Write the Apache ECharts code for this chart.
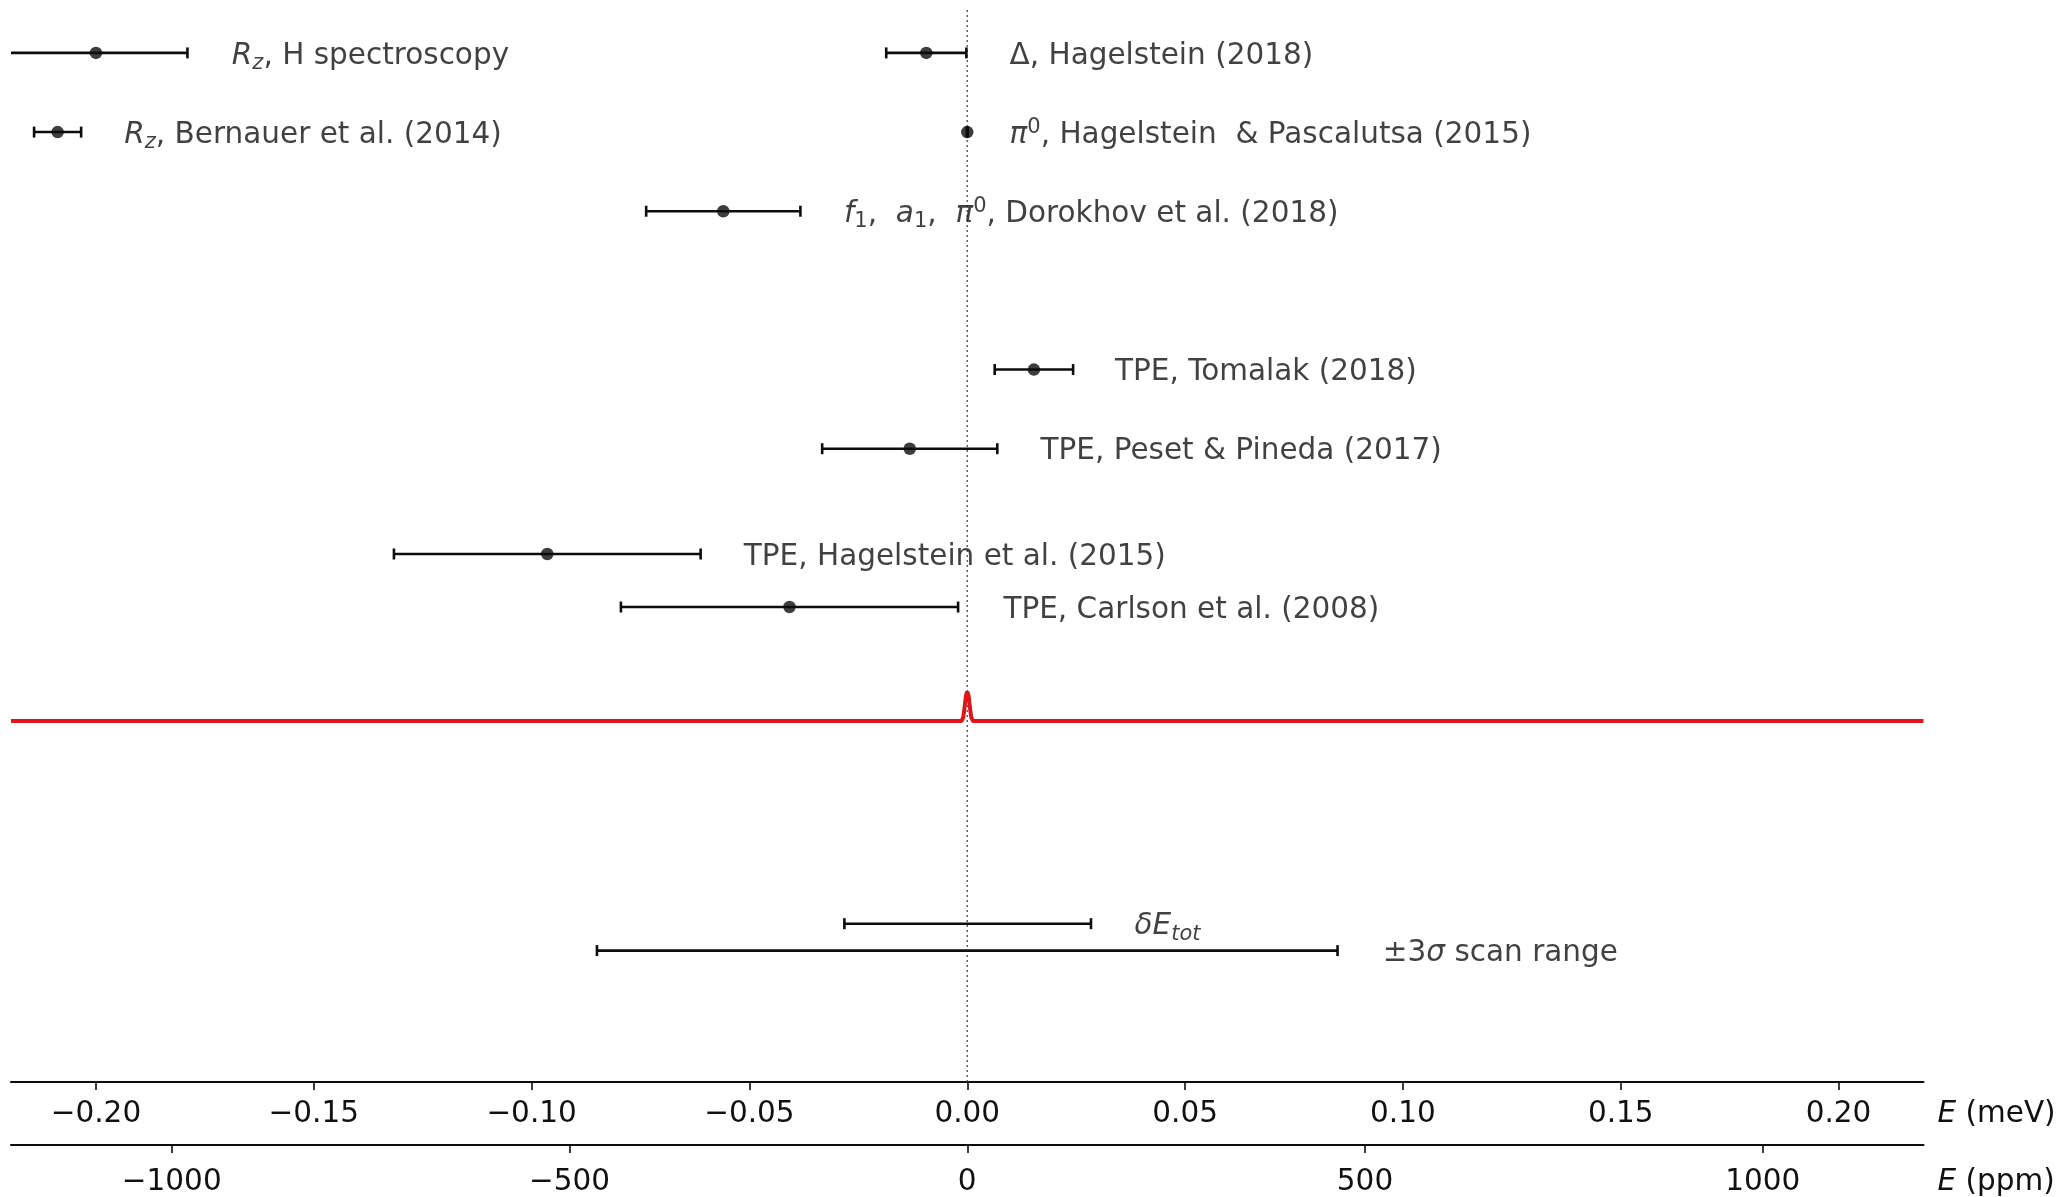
<!DOCTYPE html>
<html>
<head>
<meta charset="utf-8">
<script src="https://cdn.jsdelivr.net/npm/echarts@6/dist/echarts.min.js"></script>
<style>
  html, body { margin: 0; padding: 0; background: #ffffff; }
  #chart { width: 2064px; height: 1197px; }
</style>
</head>
<body>
<div id="chart"></div>
<script>
// Contributions to the hyperfine splitting (meV) with 1σ uncertainties
const labels = [
  '{i|R}{sub|z}, H spectroscopy',
  '{i|R}{sub|z}, Bernauer et al. (2014)',
  '{i|f}{subn|1},  {i|a}{subn|1},  {i|π}{sup|0}, Dorokhov et al. (2018)',
  'Δ, Hagelstein (2018)',
  '{i|π}{sup|0}, Hagelstein  & Pascalutsa (2015)',
  'TPE, Tomalak (2018)',
  'TPE, Peset & Pineda (2017)',
  'TPE, Hagelstein et al. (2015)',
  'TPE, Carlson et al. (2008)',
  '{i|δE}{sub|tot}',
  '±3{i|σ} scan range'
];
const centers = [-0.2000, -0.2088, -0.0560, -0.0094, 0.0000, 0.0153, -0.0132, -0.0964, -0.0408, 0.0001, 0.0000];
const errors  = [ 0.0210,  0.0054,  0.0177,  0.0092, 0.0001, 0.0090,  0.0201,  0.0352,  0.0387, 0.0283, 0.0850];
const rows    = [13, 12, 11, 13, 12, 9, 8, 6.67, 6, 2, 1.66];
const hasDot  = [true, true, true, true, true, true, true, true, true, false, false];
const labelX  = [-0.1688, -0.1935, -0.0283, 0.0097, 0.0097, 0.0339, 0.0168, -0.0513, 0.0083, 0.0384, 0.0954];

// Scan response: flat baseline with a narrow resonance at zero
const peakX = [-0.2195, -0.0013, -0.0009, -0.0006, -0.0003, 0.0000, 0.0003, 0.0006, 0.0009, 0.0013, 0.2195];
const peakY = [4.56, 4.56, 4.61, 4.74, 4.88, 4.93, 4.88, 4.74, 4.61, 4.56, 4.56];

// Axis ticks
const mevTicks = [-0.20, -0.15, -0.10, -0.05, 0.00, 0.05, 0.10, 0.15, 0.20];
const ppmTicks = [-1000, -500, 0, 500, 1000];

const E_HFS = 182.6;      // meV, reference energy for the ppm scale
const X_LIMIT = 0.2195;   // meV
const Y_TOP = 13.58;

const FONT = 'DejaVu Sans';
const FS = 29.5;
const SUBFS = 21;
const TXT = '#111111';
const INK = '#0d0d0d';

const minus = s => s.replace('-', '\u2212');

const richStyles = {
  i:    { fontFamily: FONT, fontSize: FS, fontStyle: 'italic', color: TXT, lineHeight: 36 },
  sub:  { fontFamily: FONT, fontSize: SUBFS, fontStyle: 'italic', color: TXT, lineHeight: 15, verticalAlign: 'bottom' },
  subn: { fontFamily: FONT, fontSize: SUBFS, color: TXT, lineHeight: 15, verticalAlign: 'bottom' },
  sup:  { fontFamily: FONT, fontSize: SUBFS, color: TXT, lineHeight: 15, verticalAlign: 'top' }
};

const barData = centers.map((c, k) => [c, rows[k], errors[k]]);
const dotData = centers.map((c, k) => [c, rows[k]]).filter((_, k) => hasDot[k]);
const labelData = labelX.map((x, k) => ({ value: [x, rows[k]], name: labels[k] }));
const peakData = peakX.map((x, k) => [x, peakY[k]]);

const CAP = 5.5;

function renderBar(params, api) {
  const c = api.value(0), y = api.value(1), e = api.value(2);
  const cs = params.coordSys;
  const lo = api.coord([c - e, y]);
  const hi = api.coord([c + e, y]);
  const xL = Math.max(lo[0], cs.x);
  const xR = Math.min(hi[0], cs.x + cs.width);
  const st = { stroke: INK, lineWidth: 2.6 };
  const children = [{ type: 'line', shape: { x1: xL, y1: lo[1], x2: xR, y2: lo[1] }, style: st }];
  if (lo[0] >= cs.x - 0.5) {
    children.push({ type: 'line', shape: { x1: lo[0], y1: lo[1] - CAP, x2: lo[0], y2: lo[1] + CAP }, style: st });
  }
  if (hi[0] <= cs.x + cs.width + 0.5) {
    children.push({ type: 'line', shape: { x1: hi[0], y1: hi[1] - CAP, x2: hi[0], y2: hi[1] + CAP }, style: st });
  }
  return { type: 'group', children };
}

function axisNameStyle(padTop) {
  return {
    fontFamily: FONT, fontSize: FS, color: TXT,
    align: 'left', verticalAlign: 'top', padding: [padTop, 0, 0, 0], lineHeight: 30,
    rich: { i: { fontFamily: FONT, fontSize: FS, fontStyle: 'italic', color: TXT, lineHeight: 30 } }
  };
}

const chart = echarts.init(document.getElementById('chart'), null, { renderer: 'canvas' });

chart.setOption({
  animation: false,
  backgroundColor: '#ffffff',
  grid: { left: 11, right: 140.5, top: 7, bottom: 115, containLabel: false, outerBoundsMode: 'none' },
  xAxis: [
    {
      type: 'value', min: -X_LIMIT, max: X_LIMIT, position: 'bottom',
      axisLine: { onZero: false, lineStyle: { color: INK, width: 2.2 } },
      axisTick: { show: true, length: 8, lineStyle: { color: INK, width: 1.6 }, customValues: mevTicks },
      axisLabel: {
        customValues: mevTicks, margin: 17, fontFamily: FONT, fontSize: FS, color: TXT, lineHeight: 30,
        formatter: v => minus(Number(v).toFixed(2))
      },
      splitLine: { show: false },
      name: '{i|E} (meV)', nameLocation: 'end', nameGap: 14, nameTextStyle: axisNameStyle(17)
    },
    {
      type: 'value', min: -X_LIMIT / E_HFS * 1e6, max: X_LIMIT / E_HFS * 1e6, position: 'bottom', offset: 63,
      axisLine: { onZero: false, lineStyle: { color: INK, width: 2.2 } },
      axisTick: { show: true, length: 8, lineStyle: { color: INK, width: 1.6 }, customValues: ppmTicks },
      axisLabel: {
        customValues: ppmTicks, margin: 22, fontFamily: FONT, fontSize: FS, color: TXT, lineHeight: 30,
        formatter: v => minus(String(Math.round(v)))
      },
      splitLine: { show: false },
      name: '{i|E} (ppm)', nameLocation: 'end', nameGap: 14, nameTextStyle: axisNameStyle(22)
    }
  ],
  yAxis: { type: 'value', min: 0, max: Y_TOP, show: false },
  series: [
    {
      // zero reference
      type: 'line', xAxisIndex: 0, silent: true, showSymbol: false, z: 1,
      data: [[0, 0], [0, Y_TOP]],
      lineStyle: { color: '#4a4a4a', width: 1.3, type: [2, 3] }
    },
    {
      type: 'line', xAxisIndex: 0, silent: true, showSymbol: false, z: 2,
      data: peakData,
      lineStyle: { color: '#e0141b', width: 4 }
    },
    {
      type: 'custom', xAxisIndex: 0, silent: true, z: 3,
      encode: { x: 0, y: 1 },
      renderItem: renderBar,
      data: barData
    },
    {
      type: 'scatter', xAxisIndex: 0, silent: true, z: 4,
      symbol: 'circle', symbolSize: 12.5,
      itemStyle: { color: INK },
      data: dotData
    },
    {
      type: 'scatter', xAxisIndex: 0, silent: true, z: 5,
      symbolSize: 0,
      data: labelData,
      label: {
        show: true, position: 'right', distance: 0, offset: [0, 3],
        align: 'left', verticalAlign: 'middle',
        fontFamily: FONT, fontSize: FS, color: TXT, lineHeight: 36,
        formatter: p => p.name,
        rich: richStyles
      }
    }
  ]
});
</script>
</body>
</html>
